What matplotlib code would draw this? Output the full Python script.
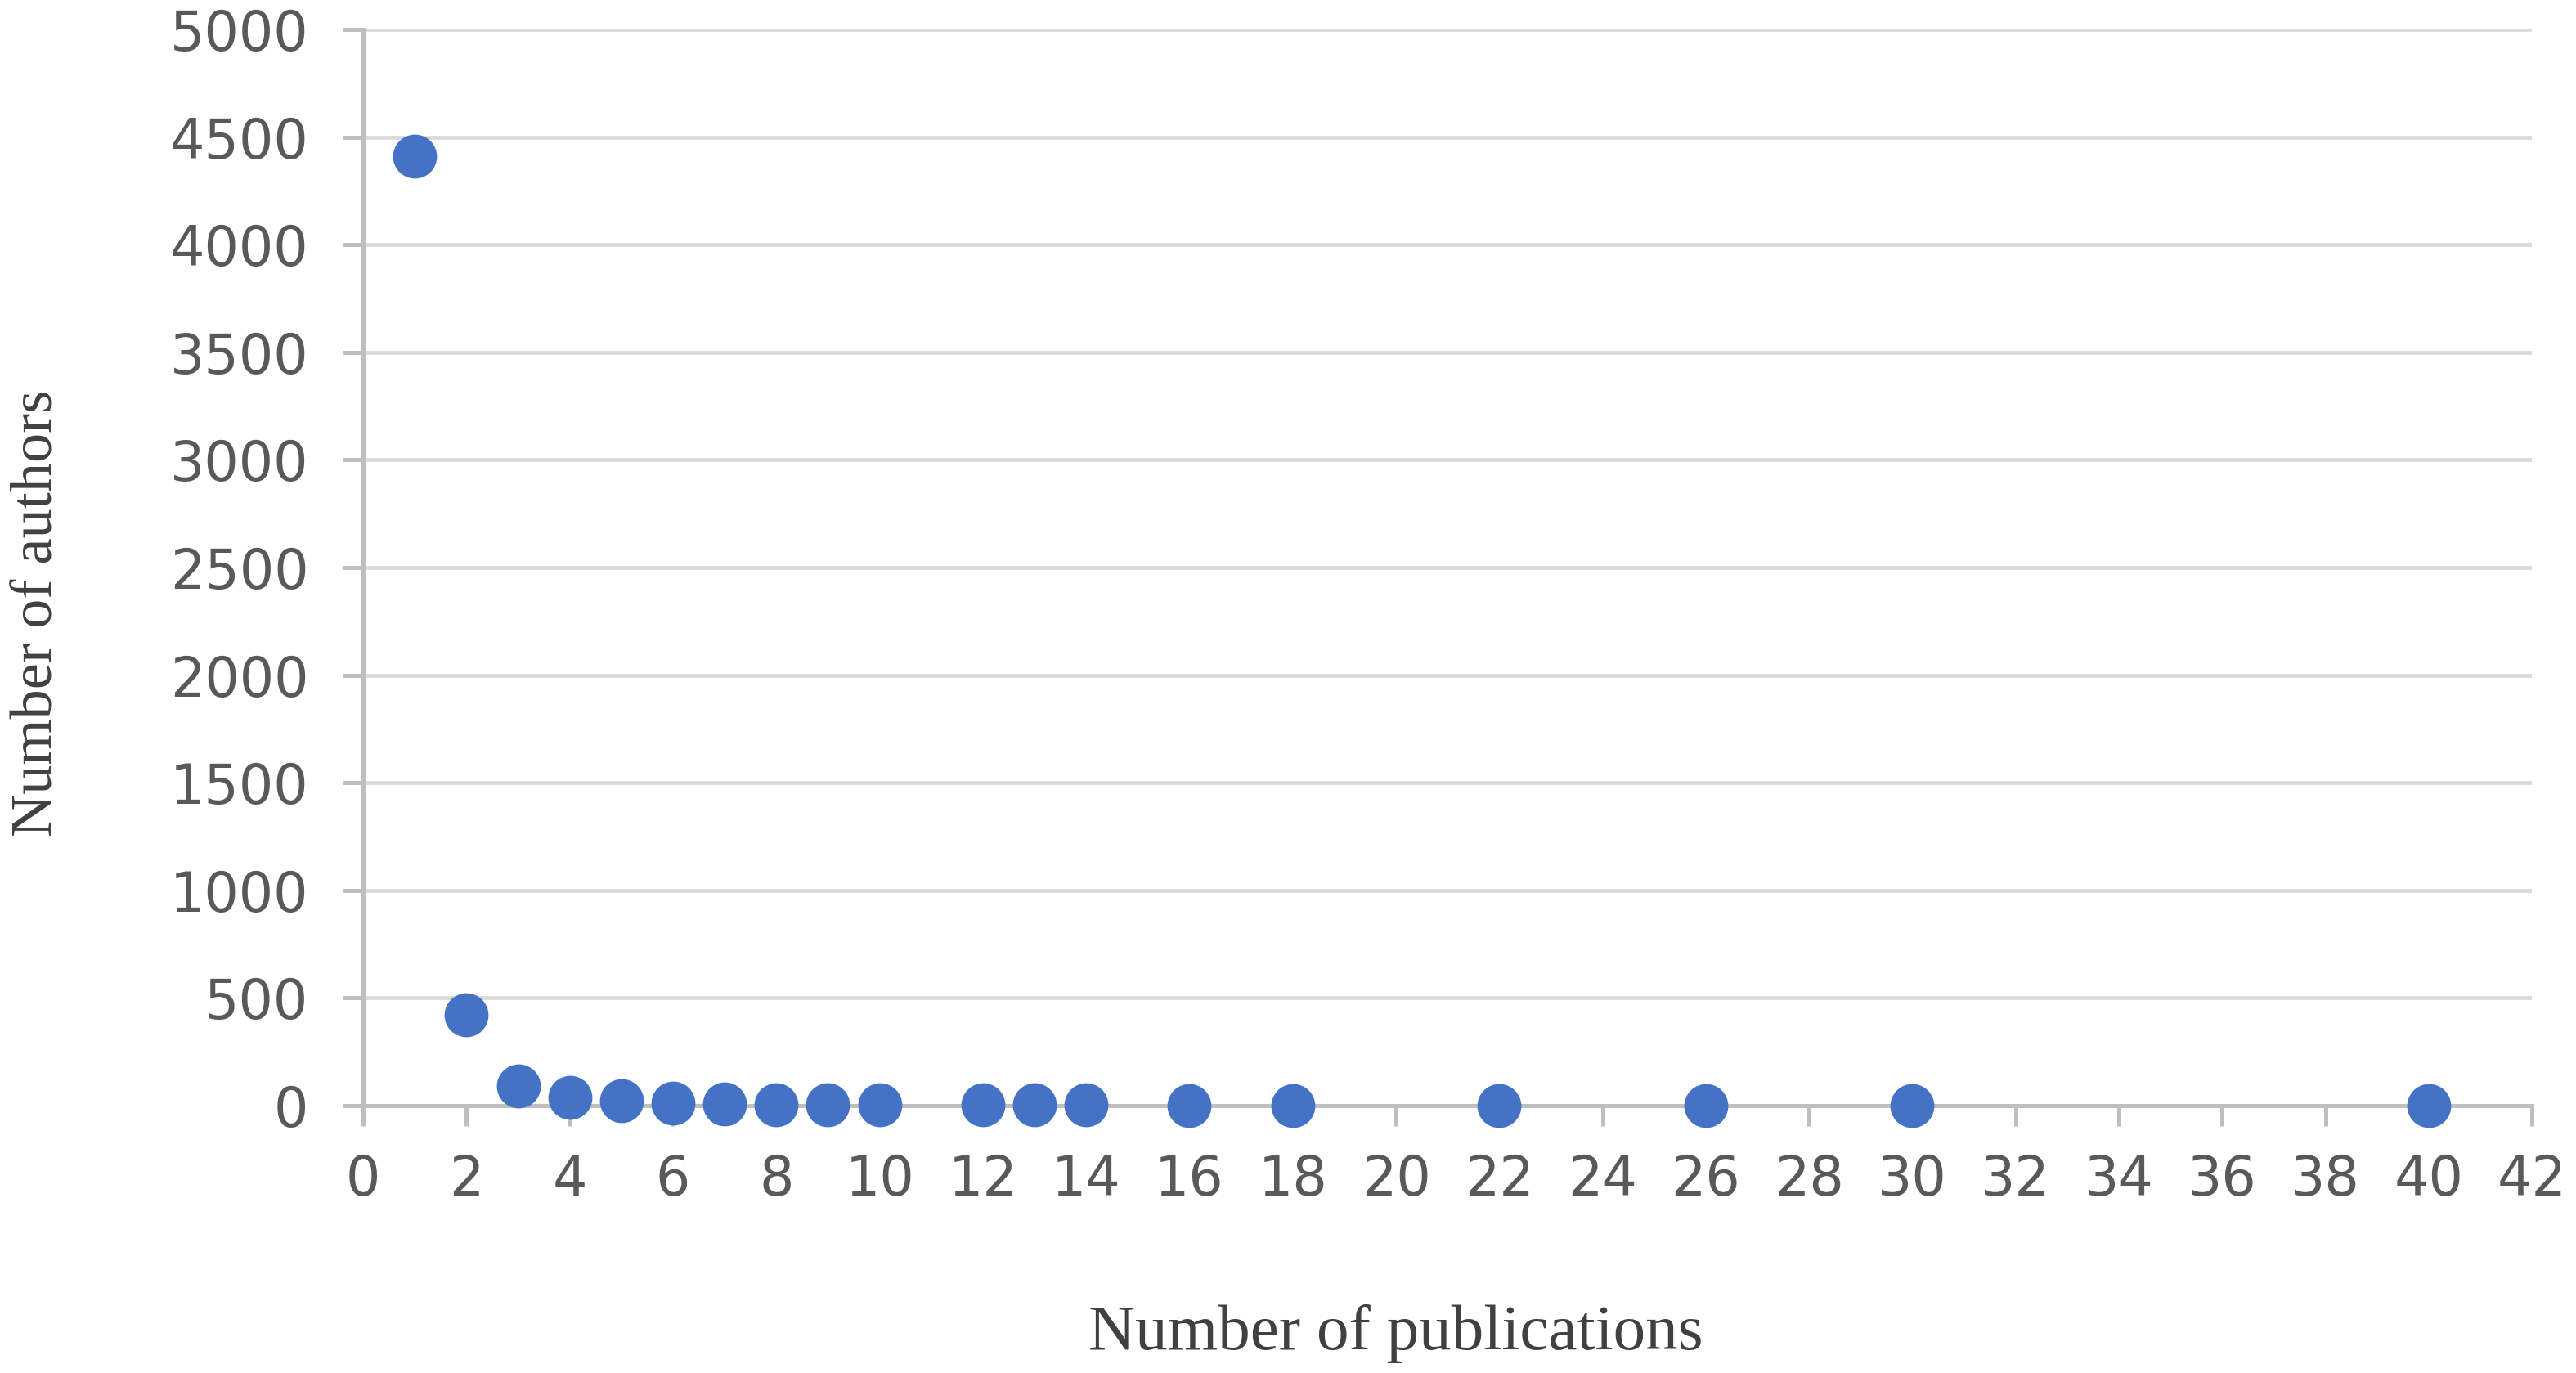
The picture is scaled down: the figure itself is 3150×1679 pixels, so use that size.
import matplotlib.pyplot as plt

publications = [1, 2, 3, 4, 5, 6, 7, 8, 9, 10, 12, 13, 14, 16, 18, 22, 26, 30, 40]
authors = [4410, 420, 92, 38, 22, 10, 8, 4, 3, 3, 2, 2, 2, 1, 1, 1, 1, 1, 1]

x_ticks = list(range(0, 43, 2))
y_ticks = list(range(0, 5001, 500))

fig = plt.figure(figsize=(31.5, 16.79), dpi=100)
ax = fig.add_axes([0.1410, 0.1948, 0.9829 - 0.1410, 0.9786 - 0.1948])

ax.scatter(publications, authors, s=1500, color='#4472C4', zorder=5, clip_on=False, linewidths=0)

ax.set_xlim(0, 42)
ax.set_ylim(0, 5000)
ax.set_xticks(x_ticks)
ax.set_yticks(y_ticks)

ax.grid(axis='y', color='#d9d9d9', linewidth=3.4, zorder=0)
ax.set_axisbelow(True)
for side in ['top', 'right']:
    ax.spines[side].set_visible(False)
for side in ['left', 'bottom']:
    ax.spines[side].set_color('#bfbfbf')
    ax.spines[side].set_linewidth(3.6)

ax.tick_params(axis='both', direction='out', length=18, width=3.6, color='#bfbfbf',
               labelsize=48, labelcolor='#595959')
ax.tick_params(axis='y', pad=30)
ax.tick_params(axis='x', pad=24)

fig.text(1707 / 3150, 1 - 1631 / 1679, 'Number of publications', family='Liberation Serif',
         fontsize=57, color='#404040', ha='center', va='center')
fig.text(46 / 3150, 1 - 750 / 1679, 'Number of authors', family='Liberation Serif',
         fontsize=52, color='#404040', ha='center', va='center', rotation=90)

fig.savefig('out.png', dpi=100)
